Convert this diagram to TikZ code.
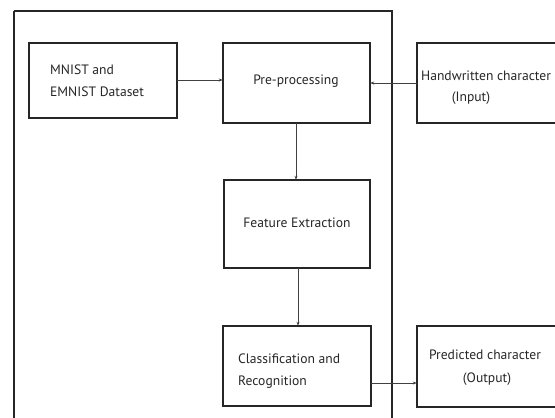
\documentclass[tikz,border=0pt]{standalone}
\usepackage{fontspec}
\setmainfont{PT Sans}
\usetikzlibrary{arrows.meta}
\begin{document}
\begin{tikzpicture}[x=1pt,y=-1pt,
  blk/.style={draw=black!85,line width=1.4pt},
  lbl/.style={font=\fontsize{13.6}{17}\selectfont,text=black!85,inner sep=0pt},
  flow/.style={draw=black!75,line width=0.6pt,-{Stealth[length=4pt,width=3pt]}}]
\useasboundingbox (0,0) rectangle (555,418);
\clip (0,0) rectangle (555,418);
% outer frame around the processing pipeline
\draw[blk] (14,11) -- (392,11) -- (392,430);
\draw[blk] (14,11) -- (14,430);
% boxes
\path[blk] (29,43) rectangle (177,118);
\node (ds) at (103,80.5) [minimum width=148pt,minimum height=75pt,inner sep=0pt] {};
\path[blk] (223,43) rectangle (370,123);
\node (pre) at (296.5,83) [minimum width=147pt,minimum height=80pt,inner sep=0pt] {};
\path[blk] (417,43) rectangle (570,123);
\node (inp) at (493.5,83) [minimum width=153pt,minimum height=80pt,inner sep=0pt] {};
\path[blk] (224,180) rectangle (370,268);
\node (fe) at (297,224) [minimum width=146pt,minimum height=88pt,inner sep=0pt] {};
\path[blk] (223,326) rectangle (371,406);
\node (cls) at (297,366) [minimum width=148pt,minimum height=80pt,inner sep=0pt] {};
\path[blk] (417,326) rectangle (570,407);
\node (out) at (493.5,366.5) [minimum width=153pt,minimum height=81pt,inner sep=0pt] {};
% texts
\node[lbl,anchor=west] at (50,70) {MNIST and};
\node[lbl,anchor=west] at (50,92) {EMNIST Dataset};
\node[lbl] at (296,81) {Pre-processing};
\node[lbl] at (486,76) {Handwritten character};
\node[lbl] at (471,98) {(Input)};
\node[lbl] at (297,223) {Feature Extraction};
\node[lbl,anchor=west] at (238,359) {Classification and};
\node[lbl,anchor=west] at (238,382) {Recognition};
\node[lbl] at (485,355) {Predicted character};
\node[lbl] at (487,379) {(Output)};
% connectors
\draw[flow] (ds.east |- 0,80) -- (pre.west |- 0,80);
\draw[flow] (inp.west |- 0,83) -- (pre.east |- 0,83);
\draw[flow] (pre.south -| 296,0) -- (fe.north -| 296,0);
\draw[flow] (fe.south -| 298,0) -- (cls.north -| 298,0);
\draw[flow] (cls.east |- 0,383) -- (out.west |- 0,383);
\end{tikzpicture}
\end{document}
